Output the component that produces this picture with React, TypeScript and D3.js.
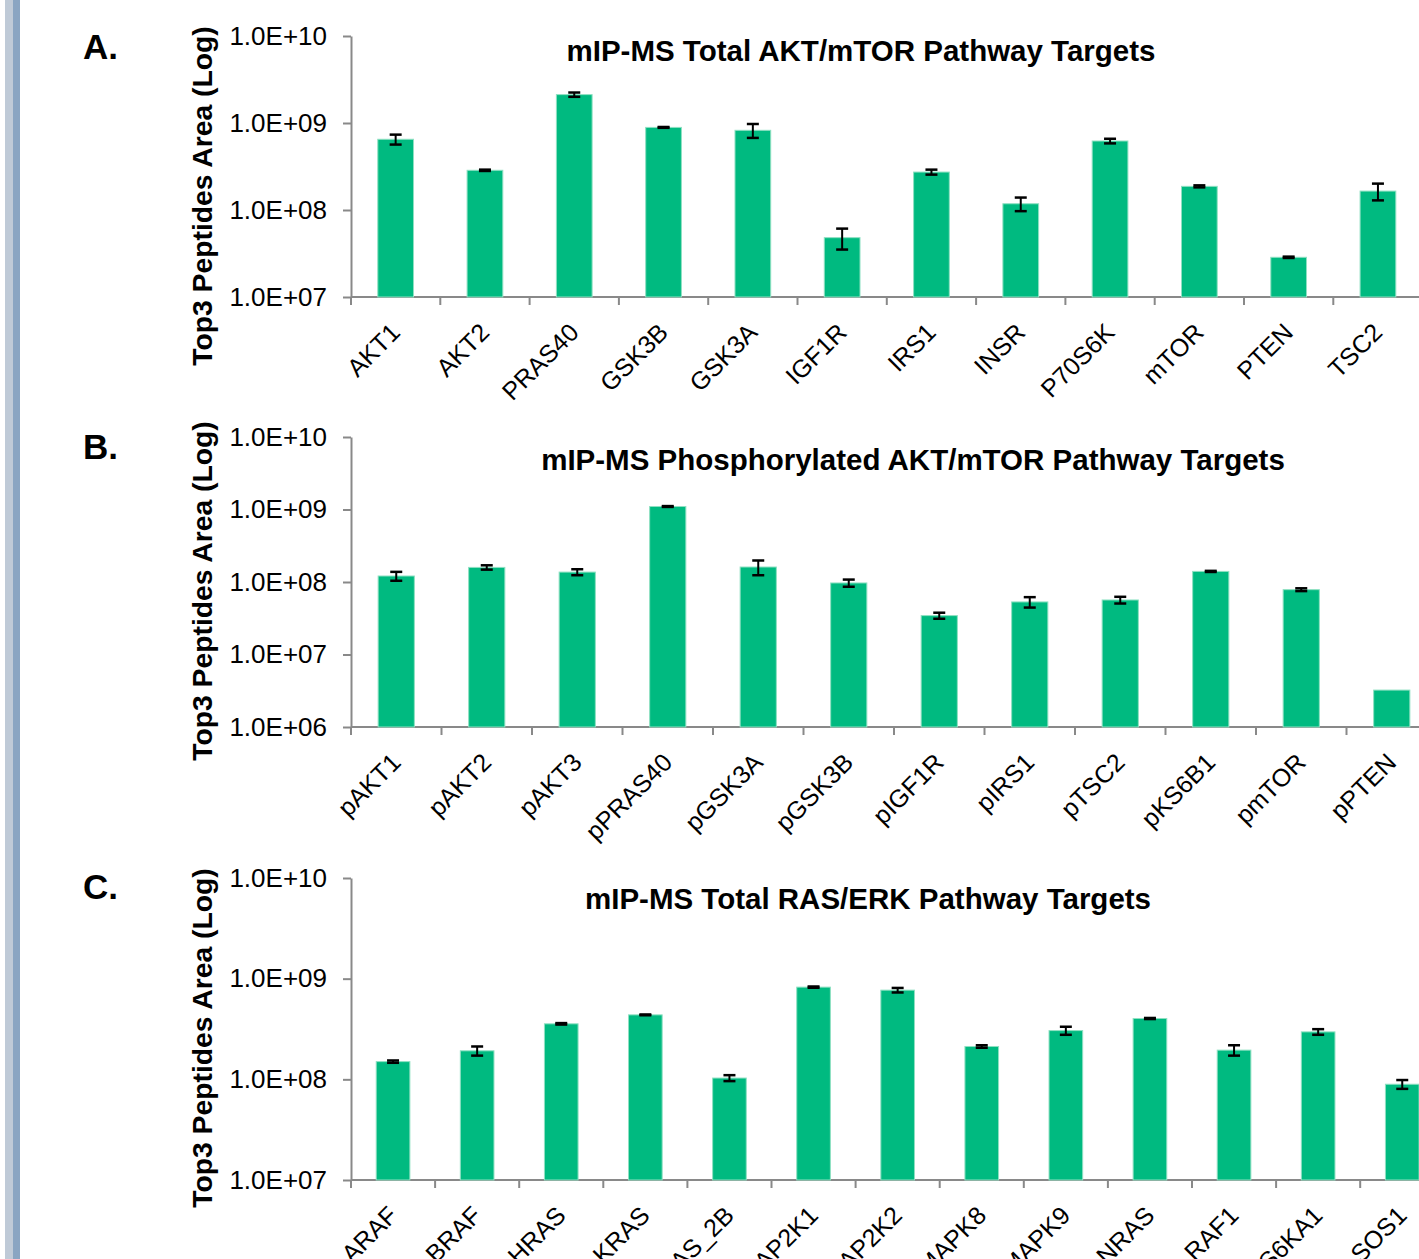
import React, { useEffect, useRef } from 'react';
import * as d3 from 'd3';

// Panel A: total AKT/mTOR pathway targets
const aktLabels = ['AKT1', 'AKT2', 'PRAS40', 'GSK3B', 'GSK3A', 'IGF1R', 'IRS1', 'INSR', 'P70S6K', 'mTOR', 'PTEN', 'TSC2'];
const aktValues = [6.5e8, 2.86e8, 2.12e9, 8.9e8, 8.24e8, 4.81e7, 2.73e8, 1.18e8, 6.21e8, 1.87e8, 2.86e7, 1.65e8];
const aktErrors = [8.5e7, 5e6, 1.2e8, 1e7, 1.5e8, 1.3e7, 1.8e7, 2.1e7, 3.8e7, 5e6, 5e5, 3.6e7];

// Panel B: phosphorylated AKT/mTOR pathway targets
const phosLabels = ['pAKT1', 'pAKT2', 'pAKT3', 'pPRAS40', 'pGSK3A', 'pGSK3B', 'pIGF1R', 'pIRS1', 'pTSC2', 'pKS6B1', 'pmTOR', 'pPTEN'];
const phosValues = [1.21e8, 1.59e8, 1.37e8, 1.1e9, 1.61e8, 9.7e7, 3.44e7, 5.31e7, 5.65e7, 1.4e8, 7.84e7, 3.23e6];
const phosErrors = [1.7e7, 1.1e7, 1.3e7, 1.5e7, 3.7e7, 1.1e7, 3.3e6, 8.7e6, 6e6, 2.5e6, 3.5e6, 0];

// Panel C: total RAS/ERK pathway targets
const rasLabels = ['ARAF', 'BRAF', 'HRAS', 'KRAS', 'KRAS_2B', 'MAP2K1', 'MAP2K2', 'MAPK8', 'MAPK9', 'NRAS', 'RAF1', 'RPS6KA1', 'SOS1'];
const rasValues = [1.5e8, 1.92e8, 3.56e8, 4.37e8, 1.03e8, 8.24e8, 7.69e8, 2.12e8, 3.05e8, 4.02e8, 1.95e8, 2.96e8, 8.94e7];
const rasErrors = [4e6, 2e7, 6e6, 4e6, 7e6, 1.2e7, 4e7, 6e6, 2.8e7, 5e6, 2.3e7, 1.9e7, 9e6];

const WIDTH = 1419;
const HEIGHT = 1259;
const AXIS_X = 351;
const FONT = "'Liberation Sans', Arial, sans-serif";

const panels = [
  {
    letter: 'A.', title: 'mIP-MS Total AKT/mTOR Pathway Targets',
    labels: aktLabels, values: aktValues, errors: aktErrors,
    domain: [1e7, 1e10], top: 36, bottom: 297, step: 89.3,
    letterY: 59, titleX: 861, titleY: 61, yLabelY: 196,
  },
  {
    letter: 'B.', title: 'mIP-MS Phosphorylated AKT/mTOR Pathway Targets',
    labels: phosLabels, values: phosValues, errors: phosErrors,
    domain: [1e6, 1e10], top: 437, bottom: 727, step: 90.5,
    letterY: 459, titleX: 913, titleY: 470, yLabelY: 591,
  },
  {
    letter: 'C.', title: 'mIP-MS Total RAS/ERK Pathway Targets',
    labels: rasLabels, values: rasValues, errors: rasErrors,
    domain: [1e7, 1e10], top: 878, bottom: 1180, step: 84.1,
    letterY: 899, titleX: 868, titleY: 909, yLabelY: 1038,
  },
];

const sciFormat = (v: number) => {
  const exp = Math.round(Math.log10(v));
  return `1.0E+${String(exp).padStart(2, '0')}`;
};

export default function App() {
  const svgRef = useRef<SVGSVGElement>(null);

  useEffect(() => {
    if (!svgRef.current) return;
    const svg = d3.select(svgRef.current);
    svg.selectAll('*').remove();

    // page edge strips
    svg.append('rect').attr('x', 5).attr('y', 0).attr('width', 8).attr('height', HEIGHT).attr('fill', '#bfcad7');
    svg.append('rect').attr('x', 13).attr('y', 0).attr('width', 7).attr('height', HEIGHT).attr('fill', '#8aa5c2');

    panels.forEach(p => {
      const n = p.labels.length;
      const x = d3.scaleBand<string>()
        .domain(p.labels)
        .range([AXIS_X, AXIS_X + p.step * n])
        .paddingInner(0.6)
        .paddingOuter(0.3);
      const y = d3.scaleLog().domain(p.domain).range([p.bottom, p.top]);

      const g = svg.append('g');

      // y axis, decades only
      const decades = y.ticks().filter(t => Math.abs(Math.log10(t) - Math.round(Math.log10(t))) < 1e-9);
      const yAxis = g.append('g')
        .attr('transform', `translate(${AXIS_X},0)`)
        .call(d3.axisLeft(y).tickValues(decades).tickFormat(d => sciFormat(+d)).tickSize(8).tickSizeOuter(0).tickPadding(16));
      yAxis.selectAll('path, line').attr('stroke', '#898989').attr('stroke-width', 2);
      yAxis.selectAll('text')
        .attr('font-family', FONT)
        .attr('font-size', 26)
        .attr('fill', '#000');

      // x axis baseline and category separators
      const x0 = x.range()[0];
      const x1 = x.range()[1];
      g.append('line')
        .attr('x1', x0).attr('x2', x1)
        .attr('y1', p.bottom).attr('y2', p.bottom)
        .attr('stroke', '#898989').attr('stroke-width', 2);
      g.selectAll('.xtick')
        .data(d3.range(n + 1))
        .enter()
        .append('line')
        .attr('x1', i => x0 + i * x.step())
        .attr('x2', i => x0 + i * x.step())
        .attr('y1', p.bottom)
        .attr('y2', p.bottom + 8)
        .attr('stroke', '#898989').attr('stroke-width', 2);

      // bars
      g.selectAll('.bar')
        .data(p.labels)
        .enter()
        .append('rect')
        .attr('x', d => x(d) as number)
        .attr('width', x.bandwidth())
        .attr('y', (d, i) => y(p.values[i]))
        .attr('height', (d, i) => p.bottom - y(p.values[i]))
        .attr('fill', '#00ba80')
        .attr('stroke', '#8fe0c2')
        .attr('stroke-width', 1);

      // error bars
      const cap = 6;
      p.labels.forEach((d, i) => {
        const e = p.errors[i];
        if (!e) return;
        const cx = (x(d) as number) + x.bandwidth() / 2;
        const yHi = y(p.values[i] + e);
        const yLo = y(p.values[i] - e);
        g.append('line').attr('x1', cx).attr('x2', cx).attr('y1', yHi).attr('y2', yLo)
          .attr('stroke', '#000').attr('stroke-width', 2);
        [yHi, yLo].forEach(yy => {
          g.append('line').attr('x1', cx - cap).attr('x2', cx + cap).attr('y1', yy).attr('y2', yy)
            .attr('stroke', '#000').attr('stroke-width', 2.5);
        });
      });

      // category labels
      g.selectAll('.xlabel')
        .data(p.labels)
        .enter()
        .append('text')
        .attr('transform', d => `translate(${(x(d) as number) + x.bandwidth() / 2 + 6},${p.bottom + 37}) rotate(-45)`)
        .attr('text-anchor', 'end')
        .attr('font-family', FONT)
        .attr('font-size', 25)
        .attr('fill', '#000')
        .text(d => d);

      // title
      g.append('text')
        .attr('x', p.titleX)
        .attr('y', p.titleY)
        .attr('text-anchor', 'middle')
        .attr('font-family', FONT)
        .attr('font-weight', 'bold')
        .attr('font-size', 29.5)
        .attr('fill', '#000')
        .text(p.title);

      // panel letter
      g.append('text')
        .attr('x', 83)
        .attr('y', p.letterY)
        .attr('font-family', FONT)
        .attr('font-weight', 'bold')
        .attr('font-size', 35)
        .attr('fill', '#000')
        .text(p.letter);

      // y axis title
      g.append('text')
        .attr('transform', `translate(212,${p.yLabelY}) rotate(-90)`)
        .attr('text-anchor', 'middle')
        .attr('font-family', FONT)
        .attr('font-weight', 'bold')
        .attr('font-size', 28.3)
        .attr('fill', '#000')
        .text('Top3 Peptides Area (Log)');
    });
  }, []);

  return (
    <svg
      ref={svgRef}
      width={WIDTH}
      height={HEIGHT}
      style={{ position: 'absolute', left: 0, top: 0, background: '#fff' }}
    />
  );
}
